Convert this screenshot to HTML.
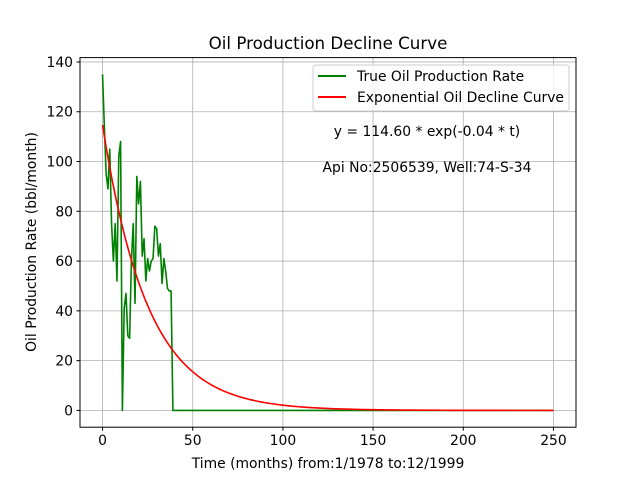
<!DOCTYPE html>
<html><head><meta charset="utf-8"><style>
body{margin:0;background:#fff}
svg{display:block;font-family:"DejaVu Sans","Liberation Sans",sans-serif}
</style></head><body>
<svg id="chart" width="640" height="480" viewBox="0 0 640 480">
<rect width="640" height="480" fill="#fff"/>
<text x="328" y="49" text-anchor="middle" font-size="16.7">Oil Production Decline Curve</text>
<g id="grid"></g>
<g id="series"></g>
<rect x="80" y="57.6" width="496" height="369.6" fill="none" stroke="#000" stroke-width="1"/>
<g id="ticks" font-size="13.9"></g>
<text x="328" y="468" text-anchor="middle" font-size="13.9">Time (months) from:1/1978 to:12/1999</text>
<text transform="translate(36,242) rotate(-90)" text-anchor="middle" font-size="13.9">Oil Production Rate (bbl/month)</text>
<g>
<rect x="313" y="65" width="256" height="46" rx="3" fill="#fff" fill-opacity="0.8" stroke="#ccc"/>
<line x1="318" y1="76" x2="346" y2="76" stroke="#008000" stroke-width="2"/>
<text x="357" y="81" font-size="13.9">True Oil Production Rate</text>
<line x1="318" y1="97" x2="346" y2="97" stroke="#ff0000" stroke-width="2"/>
<text x="357" y="102" font-size="13.9">Exponential Oil Decline Curve</text>
</g>
<text x="427" y="136" text-anchor="middle" font-size="13.9">y = 114.60 * exp(-0.04 * t)</text>
<text x="427" y="172" text-anchor="middle" font-size="13.9">Api No:2506539, Well:74-S-34</text>
</svg>
<script>
const trueRates=[135,114,95,89,105,75,60,75,52,102,108,0,41,47,30,29,60,75,43,94,83,92,62,69,52,61,56,60,61,74,73,62,67,51,61,56,49,48,48,0];
const lastMonth=[250];
const expParams=[114.6,0.04];
const xTicks=[0,50,100,150,200,250];
const yTicks=[0,20,40,60,80,100,120,140];
const NS='http://www.w3.org/2000/svg';
const L=80,R=576,T=57.6,B=427.2,xmin=-12.5,xmax=262.5,ymin=-6.75,ymax=141.75;
const X=v=>L+(v-xmin)/(xmax-xmin)*(R-L);
const Y=v=>B-(v-ymin)/(ymax-ymin)*(B-T);
const grid=document.getElementById('grid'),ticks=document.getElementById('ticks'),series=document.getElementById('series');
function mk(tag,attrs,parent){const e=document.createElementNS(NS,tag);for(const k in attrs)e.setAttribute(k,attrs[k]);parent.appendChild(e);return e;}
xTicks.forEach(v=>{
const g=mk('line',{x1:X(v),x2:X(v),y1:T,y2:B,stroke:'#b0b0b0','stroke-width':0.8},grid);


const t=mk('line',{x1:X(v),x2:X(v),y1:B,y2:B+3.5,stroke:'#000'},ticks);


const s=mk('text',{x:X(v),y:B+18,'text-anchor':'middle'},ticks);s.textContent=v;


});
yTicks.forEach(v=>{
const g=mk('line',{x1:L,x2:R,y1:Y(v),y2:Y(v),stroke:'#b0b0b0','stroke-width':0.8},grid);


const t=mk('line',{x1:L-3.5,x2:L,y1:Y(v),y2:Y(v),stroke:'#000'},ticks);


const s=mk('text',{x:L-7,y:Y(v)+5,'text-anchor':'end'},ticks);s.textContent=v;


});
const n=lastMonth[0];
let pts=[];
for(let m=0;m<=n;m++){const v=m<trueRates.length?trueRates[m]:0;pts.push(X(m).toFixed(2)+','+Y(v).toFixed(2));}
const g1=mk('polyline',{points:pts.join(' '),fill:'none',stroke:'#008000','stroke-width':1.6,'stroke-linejoin':'round'},series);


pts=[];
for(let m=0;m<=n;m++){pts.push(X(m).toFixed(2)+','+Y(expParams[0]*Math.exp(-expParams[1]*m)).toFixed(2));}
const g2=mk('polyline',{points:pts.join(' '),fill:'none',stroke:'#ff0000','stroke-width':1.6},series);


</script>
</body></html>
